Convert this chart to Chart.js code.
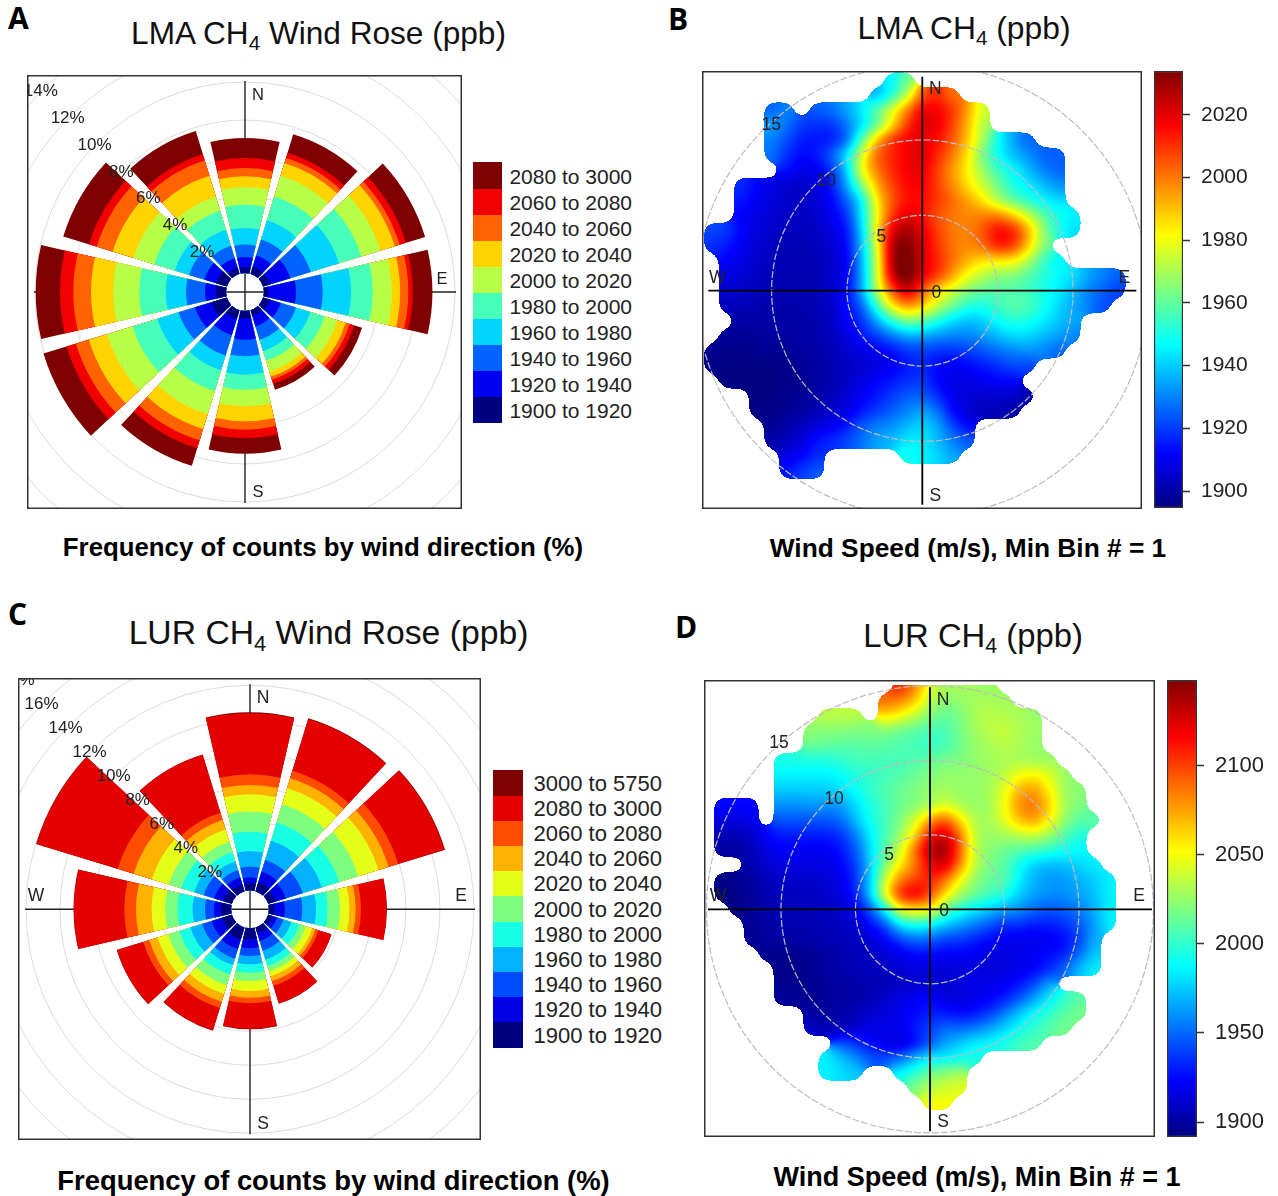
<!DOCTYPE html>
<html lang="en">
<head>
<meta charset="UTF-8" />
<title>LMA and LUR CH4 wind roses</title>
<script src="https://cdn.jsdelivr.net/npm/chart.js"></script>
<style>
  html, body { margin: 0; background: #fff; }
  body { position: relative; width: 1278px; height: 1196px; overflow: hidden; font-family: "Liberation Sans", Arial, sans-serif; color: #111; }
  canvas, .txt { position: absolute; }
  .txt { white-space: nowrap; transform: translate(-50%, -50%); line-height: 1; }
  .txt sub { font-size: 0.65em; line-height: 0; vertical-align: -0.3em; }
  .letter { font: bold 30px "Open Sans", sans-serif; position: absolute; line-height: 1; color: #000; }
  .bold { font-weight: bold; color: #000; }
  .swatch { position: absolute; }
  .lab { position: absolute; text-align: right; white-space: nowrap; line-height: 1; color: #222; }
</style>
</head>
<body>
<div class="letter" style="left:8px;top:3px">A</div>
<div class="letter" style="left:668px;top:4px">B</div>
<div class="letter" style="left:8px;top:599px">C</div>
<div class="letter" style="left:675px;top:612px">D</div>

<div class="txt" style="left:318.5px;top:34px;font-size:31.6px">LMA CH<sub>4</sub> Wind Rose (ppb)</div>
<div class="txt" style="left:964px;top:29px;font-size:31.8px">LMA CH<sub>4</sub> (ppb)</div>
<div class="txt" style="left:328.5px;top:633px;font-size:33.7px">LUR CH<sub>4</sub> Wind Rose (ppb)</div>
<div class="txt" style="left:973px;top:636px;font-size:32.8px">LUR CH<sub>4</sub> (ppb)</div>

<div class="txt bold" style="left:323px;top:548px;font-size:25.8px">Frequency of counts by wind direction (%)</div>
<div class="txt bold" style="left:968px;top:548px;font-size:26.3px">Wind Speed (m/s), Min Bin # = 1</div>
<div class="txt bold" style="left:333.5px;top:1181px;font-size:27.4px">Frequency of counts by wind direction (%)</div>
<div class="txt bold" style="left:977px;top:1177px;font-size:27px">Wind Speed (m/s), Min Bin # = 1</div>

<canvas id="roseA"></canvas>
<canvas id="heatB"></canvas>
<canvas id="barB"></canvas>
<canvas id="roseC"></canvas>
<canvas id="heatD"></canvas>
<canvas id="barD"></canvas>

<script>
const _ = null;
const windDirs = [0, 30, 60, 90, 120, 150, 180, 210, 240, 270, 300, 330];
const compass = ['N', 'E', 'S', 'W'];

// panel A: % of counts reached at the top of each CH4 bin, one value per direction
const lmaBins = ['1900 to 1920', '1920 to 1940', '1940 to 1960', '1960 to 1980', '1980 to 2000',
  '2000 to 2020', '2020 to 2040', '2040 to 2060', '2060 to 2080', '2080 to 3000'];
const lma1900 = [.26, .35, .32, .18, .32, .26, .35, .44, .79, .49, .53, .28];
const lma1920 = [.79, .96, 1.44, 1.63, .91, .84, 1.46, 1.33, 1.70, 1.05, 1.18, .81];
const lma1940 = [1.44, 1.84, 2.56, 3.04, 1.75, 1.58, 2.33, 2.44, 2.60, 2.05, 2.02, 1.49];
const lma1960 = [2.32, 2.89, 4.12, 4.53, 2.54, 2.19, 3.30, 3.25, 3.77, 3.12, 2.81, 2.37];
const lma1980 = [3.54, 4.21, 5.35, 5.67, 3.33, 2.72, 4.09, 4.39, 5.14, 4.51, 3.95, 3.42];
const lma2000 = [4.47, 5.35, 6.40, 6.67, 4.04, 3.33, 4.96, 5.67, 6.54, 5.88, 5.09, 4.21];
const lma2020 = [5.04, 6.05, 7.19, 7.11, 4.49, 3.60, 5.75, 6.49, 7.54, 7.05, 6.23, 5.35];
const lma2040 = [5.47, 6.32, 7.46, 7.54, 4.70, 3.77, 6.19, 7.11, 8.25, 7.98, 7.11, 6.18];
const lma2060 = [6.00, 6.61, 7.81, 7.77, 4.96, 4.00, 6.63, 7.54, 8.77, 8.68, 7.54, 6.53];
const lma2080 = [7.05, 7.63, 8.86, 8.81, 5.39, 4.33, 7.46, 8.51, 10.04, 9.96, 8.95, 7.81];

// panel C
const lurBins = ['1900 to 1920', '1920 to 1940', '1940 to 1960', '1960 to 1980', '1980 to 2000', '2000 to 2020',
  '2020 to 2040', '2040 to 2060', '2060 to 2080', '2080 to 3000', '3000 to 5750'];
const lur1900 = [.35, .49, .39, .25, .20, .29, .59, .69, .55, .53, .49, .35];
const lur1920 = [.69, 1.14, 1.02, .88, .49, .78, 1.12, 1.27, 1.18, .94, 1.02, .78];
const lur1940 = [1.33, 1.86, 2.06, 1.90, .88, 1.37, 1.57, 1.86, 1.76, 1.47, 1.67, 1.22];
const lur1960 = [2.25, 3.04, 3.24, 2.71, 1.37, 1.92, 2.06, 2.25, 2.49, 2.20, 2.25, 1.76];
const lur1980 = [3.39, 4.16, 4.31, 3.39, 1.86, 2.31, 2.55, 2.84, 3.18, 3.08, 3.04, 2.35];
const lur2000 = [4.57, 5.29, 5.49, 4.12, 2.25, 2.65, 3.04, 3.49, 3.86, 3.82, 3.82, 2.98];
const lur2020 = [5.59, 6.29, 6.73, 4.67, 2.65, 2.94, 3.63, 4.02, 4.51, 4.61, 4.86, 3.73];
const lur2040 = [6.14, 6.88, 7.35, 5.04, 2.84, 3.24, 4.02, 4.51, 5.02, 5.53, 5.98, 4.31];
const lur2060 = [6.76, 7.35, 7.94, 5.35, 3.04, 3.53, 4.35, 4.90, 5.39, 6.22, 6.96, 4.76];
const lur2080 = [10.35, 10.53, 10.78, 6.86, 3.82, 4.61, 5.86, 6.27, 7.00, 9.18, 11.96, 8.33];
const lur3000 = [10.41, 10.57, 10.82, 6.88, 3.84, 4.63, 5.88, 6.29, 7.02, 9.20, 11.98, 8.35];

// colour bar ticks
const lmaTicks = [1900, 1920, 1940, 1960, 1980, 2000, 2020];
const lurTicks = [1900, 1950, 2000, 2050, 2100];

// panel B cells, 1 m/s apart: [north, first east, ppb, ppb, ...]
const lmaCells = [
  [14, -2, 1945, 1962],
  [13, -3, 1935, 1950, 1972, 2005, 2012, 2000],
  [12, -10, 1925, 1930, _, 1925, 1928, 1935, 1945, 1960, 1978, 2000, 2020, 2018, 2010, 1995, 1975],
  [11, -10, 1935, 1928, 1920, 1918, 1918, 1928, 1942, 1960, 1985, 2010, 2022, 2020, 2008, 1992, 1970],
  [10, -10, 1930, 1922, 1915, 1914, 1915, 1925, 1960, 1992, 2012, 2018, 2020, 2015, 2005, 1990, 1970, 1948, 1935, 1925],
  [9, -10, 1928, 1918, 1912, 1915, 1925, 1945, 1978, 2005, 2012, 2018, 2022, 2012, 2000, 1985, 1962, 1948, 1938, 1932, 1925, 1925],
  [8, -9, 1915, 1908, 1910, 1918, 1940, 1982, 2000, 2012, 2018, 2020, 2008, 1995, 1983, 1968, 1955, 1948, 1938, 1930, 1925],
  [7, -12, 1918, 1912, 1908, 1905, 1904, 1908, 1915, 1935, 1965, 1993, 2008, 2016, 2018, 2008, 1998, 1985, 1975, 1962, 1950, 1945, 1938, 1932],
  [6, -12, 1915, 1910, 1907, 1905, 1904, 1906, 1912, 1925, 1945, 1985, 2005, 2015, 2016, 2010, 2002, 1995, 1985, 1970, 1960, 1952, 1946, 1942],
  [5, -12, 1912, 1908, 1906, 1904, 1904, 1905, 1910, 1918, 1945, 1980, 2010, 2022, 2015, 2005, 2000, 1998, 2000, 2000, 1990, 1975, 1960, 1950, 1945],
  [4, -14, 1922, 1920, 1912, 1907, 1905, 1903, 1903, 1904, 1907, 1914, 1940, 1985, 2022, 2030, 2020, 2008, 2000, 1998, 2005, 2018, 2015, 1995, 1968, 1950, 1942],
  [3, -14, 1918, 1915, 1910, 1906, 1904, 1902, 1902, 1903, 1906, 1912, 1938, 1978, 2030, 2036, 2022, 2010, 2000, 1998, 2002, 2015, 2012, 1990, 1965],
  [2, -13, 1912, 1908, 1905, 1903, 1902, 1901, 1902, 1905, 1910, 1936, 1975, 2030, 2040, 2022, 2012, 2002, 1992, 1985, 1985, 1983, 1972, 1955, 1946],
  [1, -13, 1908, 1906, 1904, 1902, 1901, 1901, 1902, 1905, 1910, 1935, 1975, 2026, 2040, 2020, 2010, 1995, 1980, 1972, 1965, 1965, 1958, 1952, 1947, 1943, 1935, 1930, 1925],
  [0, -13, 1906, 1905, 1903, 1902, 1901, 1901, 1902, 1905, 1912, 1935, 1972, 2005, 2025, 2005, 1985, 1975, 1965, 1960, 1958, 1958, 1955, 1950, 1945, 1938, 1930, 1925, 1920],
  [-1, -13, 1903, 1902, 1901, 1901, 1901, 1901, 1902, 1905, 1913, 1925, 1955, 1985, 1998, 1990, 1975, 1962, 1952, 1950, 1955, 1960, 1958, 1950, 1942, 1935, 1930, 1922],
  [-2, -12, 1900, 1900, 1900, 1900, 1900, 1901, 1904, 1911, 1918, 1935, 1952, 1965, 1960, 1950, 1942, 1938, 1940, 1948, 1952, 1950, 1945, 1940, 1935],
  [-3, -13, 1898, 1898, 1898, 1899, 1899, 1900, 1901, 1903, 1908, 1915, 1920, 1928, 1935, 1935, 1932, 1930, 1930, 1933, 1938, 1942, 1942, 1938, 1934, 1930],
  [-4, -14, 1897, 1896, 1896, 1897, 1897, 1898, 1899, 1900, 1902, 1905, 1908, 1910, 1913, 1918, 1920, 1918, 1918, 1920, 1923, 1927, 1930, 1932, 1930, 1925],
  [-5, -14, 1896, 1895, 1895, 1895, 1895, 1896, 1898, 1899, 1901, 1904, 1905, 1907, 1910, 1915, 1917, 1912, 1910, 1912, 1915, 1918, 1922, 1920],
  [-6, -13, 1895, 1895, 1895, 1895, 1896, 1897, 1899, 1901, 1904, 1908, 1912, 1915, 1918, 1920, 1912, 1908, 1908, 1910, 1912, 1912],
  [-7, -11, 1895, 1895, 1896, 1898, 1900, 1903, 1906, 1911, 1915, 1920, 1925, 1925, 1918, 1910, 1906, 1905, 1905, 1905, 1900],
  [-8, -11, 1895, 1896, 1897, 1899, 1902, 1905, 1908, 1915, 1920, 1925, 1930, 1935, 1928, 1912, 1906, 1903, 1902, 1900],
  [-9, -10, 1897, 1900, 1904, 1907, 1910, 1915, 1925, 1930, 1932, 1938, 1942, 1936, 1922, 1912],
  [-10, -10, 1900, 1903, 1907, 1915, 1918, 1922, 1928, 1935, 1938, 1945, 1945, 1938, 1930, 1925],
  [-11, -9, 1908, 1912, 1918, _, _, _, _, _, 1950, 1945, 1942, 1935],
  [-12, -9, 1915, 1920, 1925]
];

// panel D cells
const lurCells = [
  [15, -2, 2110, 2085, 2045, 2030, 2030, 2028, 2025],
  [14, -3, 2090, 2085, 2065, 2035, 2022, 2025, 2030, 2030, 2028],
  [13, -7, 2035, 2035, 2035, _, 2060, 2050, 2035, 2020, 2012, 2018, 2030, 2035, 2032, 2030, 2025],
  [12, -8, 2025, 2022, 2022, 2020, 2020, 2020, 2015, 2010, 2005, 2005, 2018, 2028, 2035, 2038, 2032, 2028],
  [11, -8, 2015, 2012, 2010, 2010, 2012, 2010, 2008, 2005, 2000, 2005, 2015, 2025, 2030, 2035, 2030, 2025],
  [10, -10, 1995, 1995, 1995, 1995, 2000, 2005, 2005, 2005, 2005, 2008, 2012, 2018, 2020, 2025, 2028, 2030, 2030, 2028, 2025],
  [9, -10, 1985, 1985, 1985, 1985, 1988, 1995, 2000, 2005, 2008, 2015, 2020, 2025, 2025, 2025, 2028, 2035, 2050, 2055, 2045, 2025],
  [8, -10, 1975, 1975, 1975, 1975, 1980, 1990, 2000, 2008, 2015, 2020, 2025, 2030, 2025, 2025, 2030, 2045, 2072, 2078, 2055, 2028, 2022],
  [7, -14, 1925, 1925, 1925, _, 1960, 1960, 1962, 1962, 1962, 1980, 1995, 2005, 2015, 2020, 2030, 2040, 2030, 2025, 2028, 2050, 2082, 2088, 2065, 2030, 2020],
  [6, -14, 1915, 1915, 1920, _, 1945, 1945, 1945, 1945, 1950, 1972, 1992, 2005, 2020, 2040, 2075, 2095, 2060, 2030, 2030, 2045, 2070, 2078, 2055, 2025, 2010, 2010],
  [5, -14, 1905, 1905, 1910, 1925, 1930, 1930, 1930, 1930, 1935, 1955, 1985, 2005, 2025, 2060, 2115, 2130, 2090, 2035, 2025, 2030, 2035, 2040, 2028, 2010, 1995],
  [4, -14, 1900, 1900, 1905, 1915, 1922, 1922, 1920, 1920, 1927, 1945, 1980, 2010, 2040, 2090, 2135, 2145, 2095, 2035, 2022, 2015, 2010, 2005, 2000, 1992, 1988],
  [3, -12, 1903, 1912, 1917, 1917, 1917, 1917, 1922, 1938, 1975, 2020, 2055, 2085, 2120, 2130, 2085, 2035, 2018, 2010, 1990, 1975, 1970, 1972, 1978, 1985],
  [2, -14, 1893, 1896, 1900, 1906, 1910, 1910, 1910, 1913, 1917, 1935, 1975, 2040, 2085, 2100, 2110, 2090, 2050, 2025, 2012, 2010, 1985, 1968, 1962, 1962, 1968, 1975, 1985],
  [1, -14, 1892, 1894, 1898, 1904, 1908, 1908, 1908, 1911, 1915, 1930, 1975, 2050, 2110, 2125, 2100, 2060, 2030, 2015, 2005, 1995, 1975, 1965, 1960, 1960, 1965, 1972, 1985],
  [0, -13, 1893, 1898, 1902, 1906, 1906, 1906, 1908, 1911, 1920, 1945, 1990, 2050, 2060, 2055, 2015, 1995, 1985, 1975, 1965, 1962, 1950, 1945, 1948, 1955, 1968, 1985],
  [-1, -12, 1897, 1900, 1904, 1904, 1904, 1906, 1908, 1912, 1925, 1945, 1985, 1995, 1990, 1975, 1965, 1955, 1945, 1935, 1935, 1930, 1930, 1935, 1945, 1962, 1985],
  [-2, -12, 1897, 1899, 1901, 1902, 1902, 1904, 1906, 1908, 1913, 1923, 1940, 1952, 1948, 1940, 1938, 1932, 1925, 1920, 1918, 1918, 1920, 1925, 1938, 1968],
  [-3, -11, 1895, 1895, 1895, 1897, 1900, 1903, 1906, 1909, 1912, 1918, 1925, 1925, 1922, 1922, 1920, 1915, 1915, 1918, 1922, 1925, 1930, 1950, 1975],
  [-4, -10, 1894, 1894, 1896, 1900, 1903, 1905, 1907, 1909, 1912, 1916, 1914, 1914, 1914, 1915, 1915, 1915, 1918, 1922, 1932, 1950, 1972, 1985],
  [-5, -10, 1895, 1895, 1896, 1898, 1900, 1902, 1904, 1905, 1908, 1910, 1912, 1910, 1915, 1918, 1918, 1920, 1928, 1940, 1965],
  [-6, -10, 1898, 1897, 1897, 1898, 1900, 1902, 1905, 1910, 1918, 1922, 1925, 1915, 1915, 1918, 1922, 1930, 1945, 1965, 1985, 2000, 2010],
  [-7, -8, 1900, 1900, 1902, 1905, 1912, 1915, 1918, 1925, 1930, 1930, 1925, 1928, 1938, 1955, 1975, 1990, 2000, 2010, 2018],
  [-8, -8, 1910, 1905, 1905, 1910, 1918, 1918, 1920, 1930, 1940, 1950, 1950, 1955, 1965, 1978, 1990, 2000, 2010, 2018],
  [-9, -6, 1945, 1935, 1925, 1915, 1912, 1925, 1945, 1965, 1975, 1985, 1990, 1995, 2005, 2010],
  [-10, -7, 1985, 1975, 1960, 1945, 1945, 1950, 1970, 1985, 1985, 1990, 1995],
  [-11, -7, 1985, 1980, 1975, _, _, 1990, 2000, 2015, 2025, 2030],
  [-12, -1, 2020, 2035, 2040, 2045],
  [-13, 0, 2050, 2052]
];

const jetStops = [[0, 0, 127], [0, 0, 255], [0, 127, 255], [0, 255, 255], [127, 255, 127], [255, 255, 0], [255, 127, 0], [255, 0, 0], [127, 0, 0]];

function jet(t) {
  t = Math.min(1, Math.max(0, t)) * (jetStops.length - 1);
  const i = Math.min(jetStops.length - 2, Math.floor(t)), f = t - i;
  return jetStops[i].map((c, k) => Math.round(c + (jetStops[i + 1][k] - c) * f));
}
const rgb = c => `rgb(${c[0]},${c[1]},${c[2]})`;

function place(id, box) {
  const c = document.getElementById(id);
  c.width = box.r - box.l;
  c.height = box.b - box.t;
  c.style.left = box.l + 'px';
  c.style.top = box.t + 'px';
  return c;
}

function polarScales(box, ppu) {
  return {
    x: { type: 'linear', display: false, min: (box.l - box.cx) / ppu, max: (box.r - box.cx) / ppu },
    y: { type: 'linear', display: false, min: (box.cy - box.b) / ppu, max: (box.cy - box.t) / ppu }
  };
}

function drawFrame(chart) {
  const ctx = chart.ctx, a = chart.chartArea;
  ctx.save();
  ctx.strokeStyle = '#333';
  ctx.lineWidth = 1.5;
  ctx.strokeRect(a.left + .75, a.top + .75, a.width - 1.5, a.height - 1.5);
  ctx.restore();
}

function drawCompass(chart, o) {
  const ctx = chart.ctx, cx = chart.scales.x.getPixelForValue(0), cy = chart.scales.y.getPixelForValue(0);
  ctx.strokeStyle = o.axisColor;
  ctx.lineWidth = o.axisWidth;
  ctx.beginPath();
  ctx.moveTo(cx - o.axisLen, cy); ctx.lineTo(cx + o.axisLen, cy);
  ctx.moveTo(cx, cy - o.axisLen); ctx.lineTo(cx, cy + o.axisLen);
  ctx.stroke();
  ctx.fillStyle = '#222';
  ctx.font = o.labelSize + 'px "Liberation Sans"';
  ctx.textAlign = 'center';
  ctx.textBaseline = 'middle';
  ctx.fillText(compass[0], cx + 13, cy - o.labelR);
  ctx.fillText(compass[1], cx + o.labelR, cy - 13);
  ctx.fillText(compass[2], cx + 13, cy + o.labelR + 3.5);
  ctx.fillText(compass[3], cx - o.labelR - 3, cy - 13);
}

function makeRose(id, box, o) {
  const canvas = place(id, box);
  const off = box.hole / o.ppu;
  const half = 13 * Math.PI / 180;
  const datasets = o.bins.map((name, b) => ({
    label: name,
    backgroundColor: rgb(jet(b / (o.bins.length - 1))),
    pointRadius: 0,
    data: windDirs.map((d, i) => {
      const r = o.series[b][i] + off, a = d * Math.PI / 180;
      return { x: r * Math.sin(a), y: r * Math.cos(a) };
    })
  }));
  new Chart(canvas, {
    type: 'scatter',
    data: { datasets },
    options: {
      responsive: false, animation: false,
      scales: polarScales(box, o.ppu),
      plugins: { legend: { display: false }, tooltip: { enabled: false } }
    },
    plugins: [{
      id: 'rose',
      beforeDatasetsDraw(chart) {
        const ctx = chart.ctx, a = chart.chartArea, xs = chart.scales.x, ys = chart.scales.y;
        const cx = xs.getPixelForValue(0), cy = ys.getPixelForValue(0);
        ctx.save();
        ctx.beginPath(); ctx.rect(a.left, a.top, a.width, a.height); ctx.clip();
        // rings
        ctx.strokeStyle = '#dcdcdc'; ctx.lineWidth = 1;
        o.rings.forEach(f => {
          ctx.beginPath();
          ctx.arc(cx, cy, xs.getPixelForValue(f + off) - cx, 0, 2 * Math.PI);
          ctx.stroke();
        });
        drawCompass(chart, { axisColor: '#222', axisWidth: 1.4, axisLen: o.axisLen, labelSize: o.labelSize, labelR: o.labelR });
        // sectors, outermost bin first so each band overlaps the next
        for (let b = chart.data.datasets.length - 1; b >= 0; b--) {
          const ds = chart.data.datasets[b];
          ctx.fillStyle = ds.backgroundColor;
          ds.data.forEach(p => {
            const px = xs.getPixelForValue(p.x) - cx, py = ys.getPixelForValue(p.y) - cy;
            const r = Math.hypot(px, py), ang = Math.atan2(py, px);
            ctx.beginPath();
            ctx.arc(cx, cy, r, ang - half, ang + half);
            ctx.arc(cx, cy, box.hole - 1, ang + half, ang - half, true);
            ctx.closePath();
            ctx.fill();
          });
        }
        // percent labels along the north west diagonal
        ctx.fillStyle = '#222';
        ctx.font = '17px "Liberation Sans"';
        ctx.textAlign = 'center'; ctx.textBaseline = 'middle';
        o.rings.forEach(f => {
          const v = (f + off) * Math.SQRT1_2;
          ctx.fillText(f + '%', xs.getPixelForValue(-v) - 2, ys.getPixelForValue(v) + 1.5);
        });
        ctx.restore();
        drawFrame(chart);
      }
    }]
  });
}

function legend(o) {
  const n = o.bins.length;
  o.bins.forEach((name, b) => {
    const top = o.top + (n - 1 - b) * o.step;
    const s = document.createElement('div');
    s.className = 'swatch';
    s.style.cssText = `left:${o.left}px;top:${top}px;width:${o.width}px;height:${o.step + .5}px;background:${rgb(jet(b / (n - 1)))}`;
    document.body.appendChild(s);
    const t = document.createElement('div');
    t.className = 'lab';
    t.textContent = name;
    t.style.cssText = `right:${1278 - o.textRight}px;top:${top + o.step / 2 - o.size / 2 + 1}px;font-size:${o.size}px`;
    document.body.appendChild(t);
  });
}

function expandCells(rows) {
  const out = [];
  rows.forEach(row => {
    row.slice(2).forEach((v, i) => {
      if (v !== null) out.push({ x: row[1] + i, y: row[0], v });
    });
  });
  return out;
}

function makeHeat(id, box, o) {
  const canvas = place(id, box);
  const cells = expandCells(o.rows);
  new Chart(canvas, {
    type: 'scatter',
    data: { datasets: [{ label: o.name, data: cells, pointRadius: 0 }] },
    options: {
      responsive: false, animation: false,
      scales: polarScales(box, o.ppu),
      plugins: { legend: { display: false }, tooltip: { enabled: false } }
    },
    plugins: [{
      id: 'heat',
      beforeDatasetsDraw(chart) {
        const ctx = chart.ctx, a = chart.chartArea, xs = chart.scales.x, ys = chart.scales.y;
        const cx = xs.getPixelForValue(0), cy = ys.getPixelForValue(0);
        const lookup = new Map();
        chart.data.datasets[0].data.forEach(c => lookup.set(c.x + ',' + c.y, c.v));
        const img = ctx.createImageData(a.width, a.height);
        const wgt = f => [.5 * (.5 - f) * (.5 - f), .75 - f * f, .5 * (.5 + f) * (.5 + f)];
        for (let py = 0; py < a.height; py++) {
          const Y = ys.getValueForPixel(a.top + py + .5), j = Math.round(Y), wy = wgt(Y - j);
          if (Y > 15.05) continue;
          for (let px = 0; px < a.width; px++) {
            const X = xs.getValueForPixel(a.left + px + .5), i = Math.round(X), wx = wgt(X - i);
            let sw = 0, sv = 0;
            for (let dj = -1; dj <= 1; dj++) {
              for (let di = -1; di <= 1; di++) {
                const v = lookup.get((i + di) + ',' + (j + dj));
                if (v === undefined) continue;
                const w = wx[di + 1] * wy[dj + 1];
                sw += w; sv += w * v;
              }
            }
            if (sw < .5) continue;
            const col = jet((sv / sw - o.min) / (o.max - o.min)), k = (py * a.width + px) * 4;
            img.data[k] = col[0]; img.data[k + 1] = col[1]; img.data[k + 2] = col[2]; img.data[k + 3] = 255;
          }
        }
        ctx.putImageData(img, a.left, a.top);
        ctx.save();
        ctx.beginPath(); ctx.rect(a.left, a.top, a.width, a.height); ctx.clip();
        ctx.strokeStyle = '#bdbdbd'; ctx.lineWidth = 1.2; ctx.setLineDash([7, 2]);
        [5, 10, 15].forEach(v => {
          ctx.beginPath();
          ctx.arc(cx, cy, xs.getPixelForValue(v) - cx, 0, 2 * Math.PI);
          ctx.stroke();
        });
        ctx.setLineDash([]);
        drawCompass(chart, { axisColor: '#000', axisWidth: 1.8, axisLen: o.axisLen, labelSize: 17.5, labelR: o.labelR });
        ctx.fillStyle = '#222';
        ctx.font = '17.5px "Liberation Sans"';
        [0, 5, 10, 15].forEach(v => {
          const lx = xs.getPixelForValue(0) + 14 - 11 * v, ly = cy - 11.2 * v + 2;
          ctx.fillText(String(v), lx, ly);
        });
        ctx.restore();
        drawFrame(chart);
      }
    }]
  });
}

function makeBar(id, box, o) {
  const canvas = place(id, box);
  new Chart(canvas, {
    type: 'bar',
    data: {
      labels: [o.name],
      datasets: [{
        data: [[o.min, o.max]],
        barPercentage: 1, categoryPercentage: 1,
        borderColor: '#333', borderWidth: 1.5, borderSkipped: false,
        backgroundColor(ctx) {
          const a = ctx.chart.chartArea;
          if (!a) return '#fff';
          const g = ctx.chart.ctx.createLinearGradient(0, a.bottom, 0, a.top);
          jetStops.forEach((c, i) => g.addColorStop(i / (jetStops.length - 1), rgb(c)));
          return g;
        }
      }]
    },
    options: {
      responsive: false, animation: false,
      layout: { padding: { left: o.padLeft, top: o.padTop, bottom: o.padBottom, right: 0 } },
      scales: {
        x: { display: false },
        y: {
          position: 'right', min: o.min, max: o.max,
          afterBuildTicks(s) { s.ticks = o.ticks.map(value => ({ value })); },
          afterFit(s) { s.width = o.axisWidth; s.paddingTop = 0; s.paddingBottom = 0; },
          border: { display: false },
          grid: { drawOnChartArea: false, tickLength: 7, tickColor: '#333', tickWidth: 1.5 },
          ticks: { color: '#222', padding: 11, autoSkip: false, maxRotation: 0, font: { size: o.fontSize, family: '"Liberation Sans"' }, callback: v => String(v) }
        }
      },
      plugins: { legend: { display: false }, tooltip: { enabled: false } }
    }
  });
}

makeRose('roseA', { l: 27, t: 75, r: 462, b: 509, cx: 245, cy: 292, hole: 20 }, {
  ppu: 19, bins: lmaBins,
  series: [lma1900, lma1920, lma1940, lma1960, lma1980, lma2000, lma2020, lma2040, lma2060, lma2080],
  rings: [2, 4, 6, 8, 10, 12, 14], axisLen: 211, labelSize: 16.5, labelR: 197
});
legend({ bins: lmaBins, left: 473, top: 162, width: 29, step: 26, textRight: 632, size: 21 });

makeHeat('heatB', { l: 702, t: 71, r: 1142, b: 509, cx: 922.3, cy: 290.7 }, {
  ppu: 15.07, name: 'LMA CH4', rows: lmaCells, min: 1894.6, max: 2034, axisLen: 214, labelR: 202
});
makeBar('barB', { l: 1150, t: 65, r: 1270, b: 515 }, {
  name: 'ppb', min: 1894.6, max: 2034, ticks: lmaTicks, padLeft: 4, padTop: 6, padBottom: 7, axisWidth: 87, fontSize: 21
});

makeRose('roseC', { l: 18, t: 678, r: 481, b: 1140, cx: 250, cy: 909.3, hole: 20 }, {
  ppu: 17, bins: lurBins,
  series: [lur1900, lur1920, lur1940, lur1960, lur1980, lur2000, lur2020, lur2040, lur2060, lur2080, lur3000],
  rings: [2, 4, 6, 8, 10, 12, 14, 16, 18], axisLen: 225, labelSize: 17.5, labelR: 211
});
legend({ bins: lurBins, left: 493, top: 770, width: 30, step: 25.2, textRight: 662, size: 22 });

makeHeat('heatD', { l: 704, t: 680, r: 1155, b: 1137, cx: 930, cy: 909.3 }, {
  ppu: 14.9, name: 'LUR CH4', rows: lurCells, min: 1891.6, max: 2148, axisLen: 222, labelR: 209
});
makeBar('barD', { l: 1163, t: 674, r: 1278, b: 1144 }, {
  name: 'ppb', min: 1891.6, max: 2148, ticks: lurTicks, padLeft: 4, padTop: 6, padBottom: 7, axisWidth: 81, fontSize: 22
});
</script>
</body>
</html>
